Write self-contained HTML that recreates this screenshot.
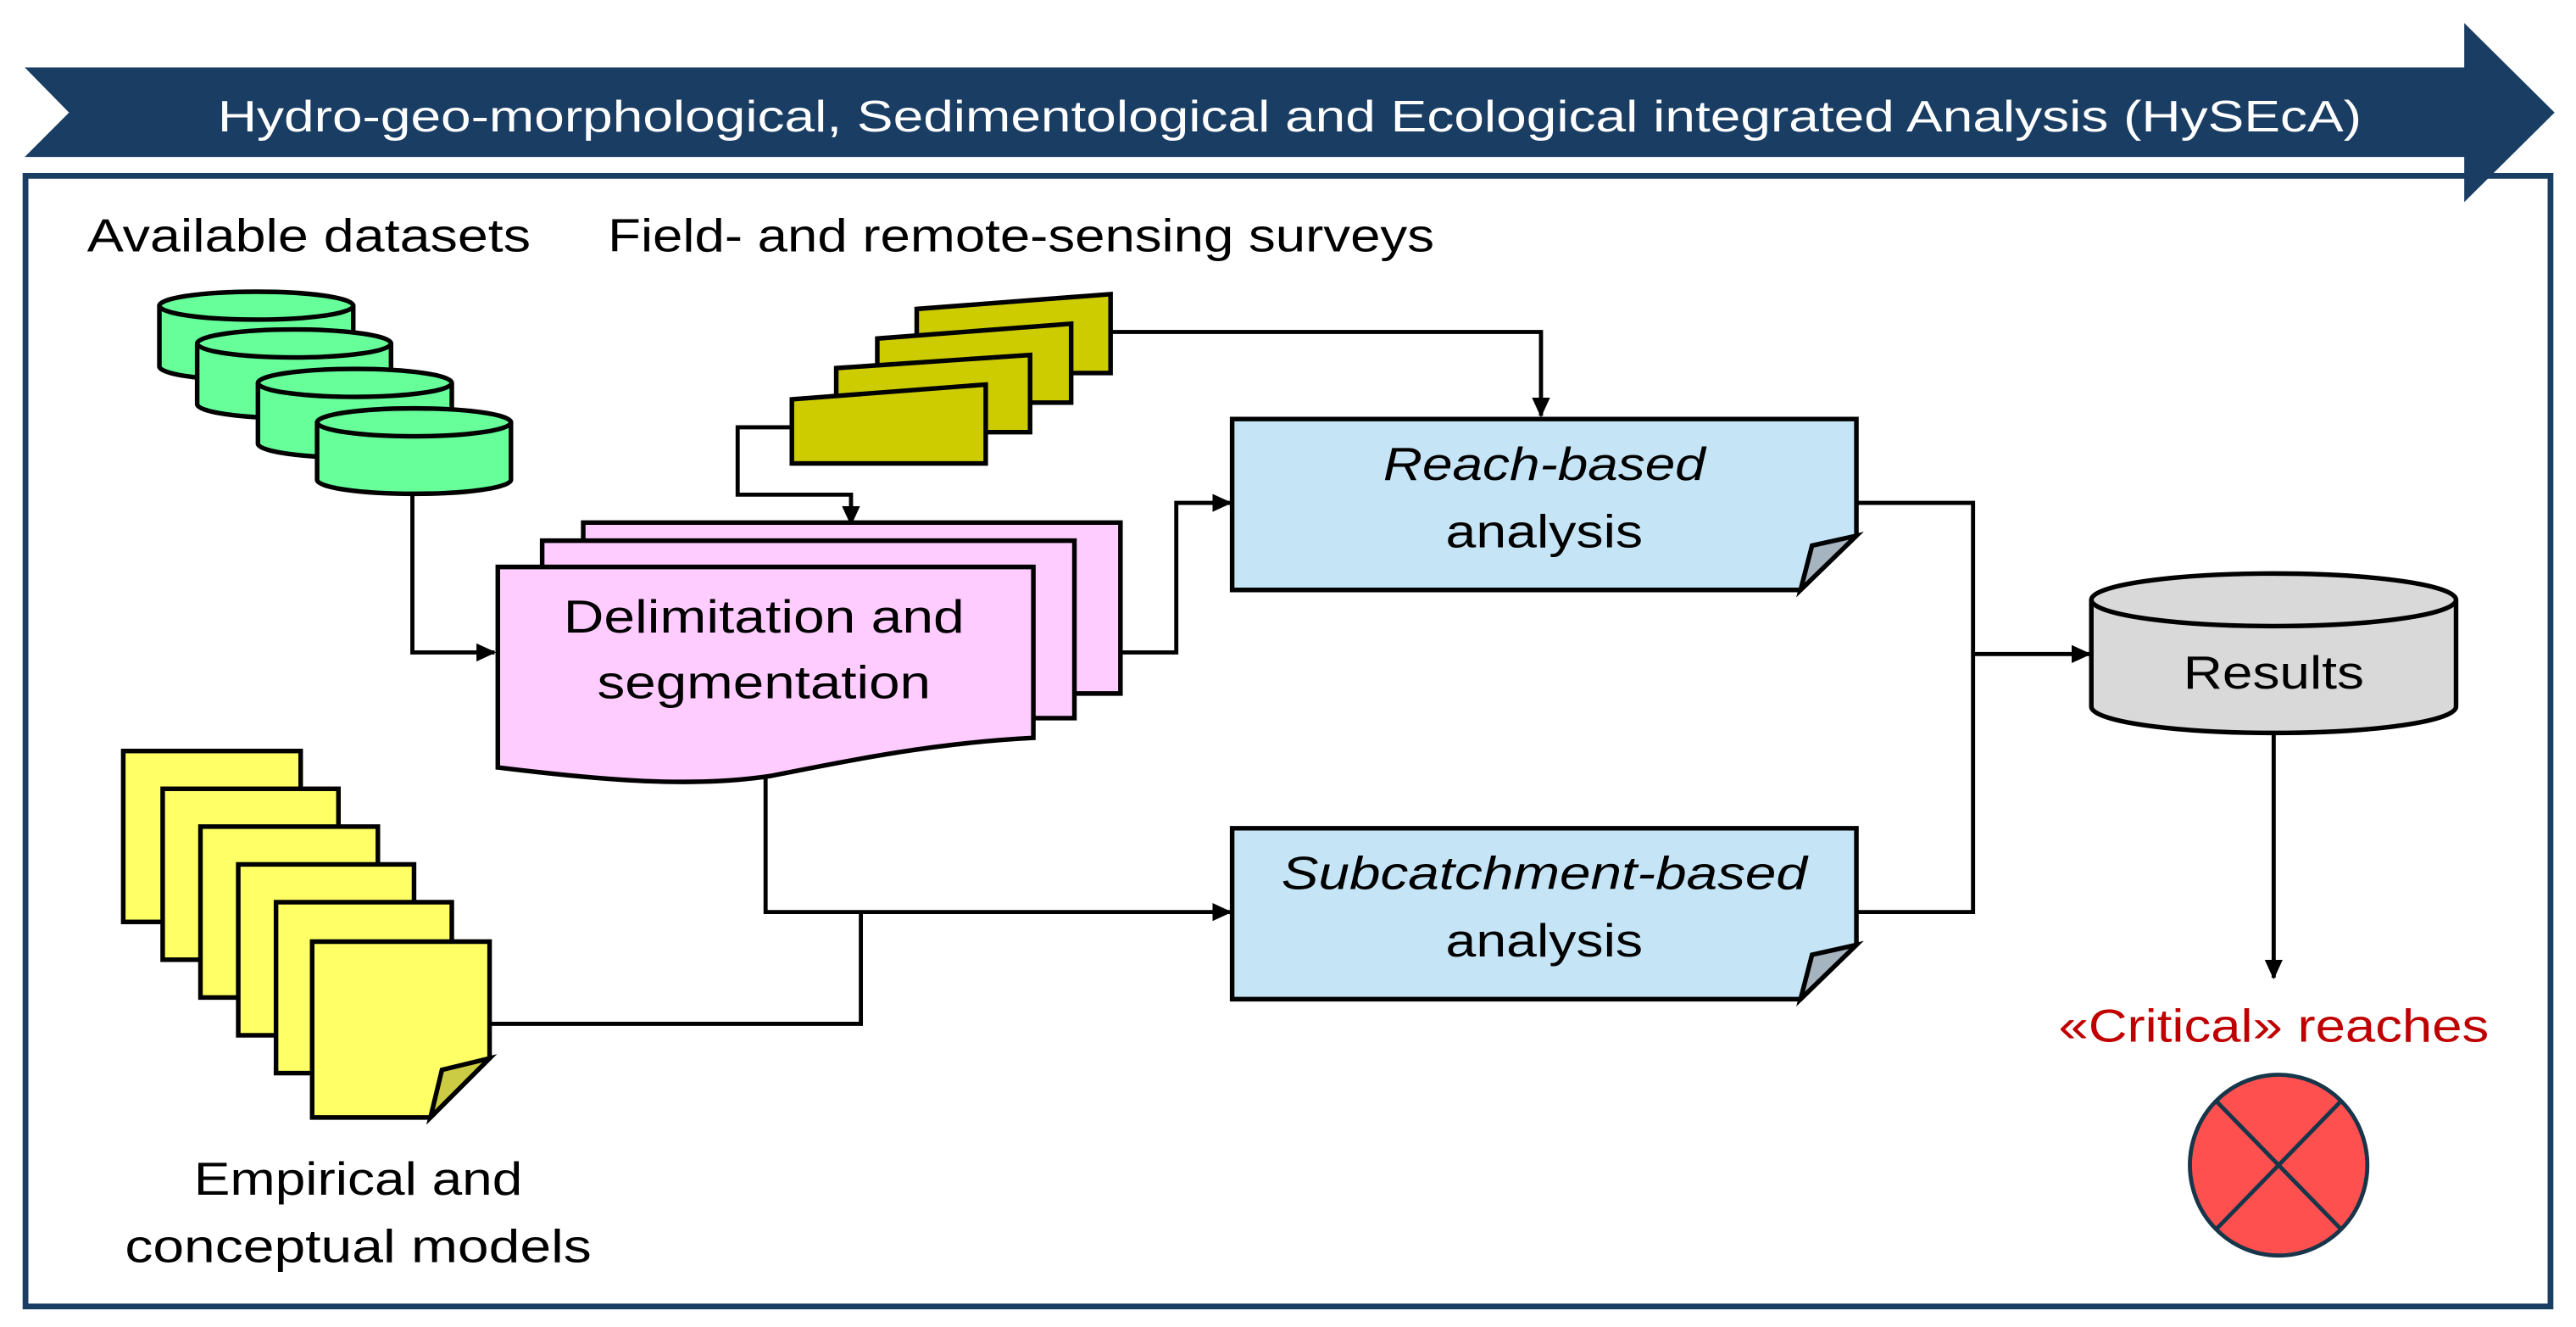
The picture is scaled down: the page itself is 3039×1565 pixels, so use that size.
<!DOCTYPE html>
<html><head><meta charset="utf-8"><style>
html,body{margin:0;padding:0;background:#fff;}
svg{display:block;}
text{font-family:"Liberation Sans",sans-serif;}
</style></head><body>
<svg width="3039" height="1565" viewBox="0 0 1568 807.5" xmlns="http://www.w3.org/2000/svg">
<defs>
<marker id="ah" markerWidth="12" markerHeight="12" refX="11" refY="5.5" orient="auto" markerUnits="userSpaceOnUse" viewBox="0 0 12 11"><path d="M0,0 L12,5.5 L0,11 z" fill="#000"/></marker>
</defs>
<rect width="1568" height="808" fill="#fff"/>
<!-- banner -->
<polygon points="15,41 1500,41 1500,14 1555,68.5 1500,123 1500,95.5 15,95.5 42,68.5" fill="#1a3d63"/>
<text x="785" y="80" fill="#fff" font-size="27" text-anchor="middle" textLength="1305" lengthAdjust="spacingAndGlyphs">Hydro-geo-morphological, Sedimentological and Ecological integrated Analysis (HySEcA)</text>
<!-- frame -->
<rect x="15.5" y="107" width="1537" height="688" fill="none" stroke="#1a3d63" stroke-width="3.5"/>
<text x="53" y="153" font-size="28" textLength="270" lengthAdjust="spacingAndGlyphs">Available datasets</text>
<text x="370" y="153" font-size="28" textLength="503" lengthAdjust="spacingAndGlyphs">Field- and remote-sensing surveys</text>

<g stroke="#000" stroke-width="2.5" fill="none">
<polyline points="251,300 251,397 301,397" marker-end="url(#ah)"/>
<polyline points="482,260 449,260 449,301 518,301 518,319" marker-end="url(#ah)"/>
<polyline points="676,202 938,202 938,253" marker-end="url(#ah)"/>
<polyline points="682,397 716,397 716,306 749,306" marker-end="url(#ah)"/>
<polyline points="466,470 466,555 749,555" marker-end="url(#ah)"/>
<polyline points="298,623 524,623 524,555"/>
<polyline points="1130,306 1201,306 1201,555 1130,555"/>
<polyline points="1201,398 1272,398" marker-end="url(#ah)"/>
<polyline points="1384,446 1384,595" marker-end="url(#ah)"/>
</g>

<!-- green cylinders -->
<g stroke="#000" stroke-width="2.8" fill="#66ff99">
<path d="M97,186 V223 A59,8.5 0 0 0 215,223 V186"/><ellipse cx="156" cy="186" rx="59" ry="8.5"/>
<path d="M120,209 V246 A59,8.5 0 0 0 238,246 V209"/><ellipse cx="179" cy="209" rx="59" ry="8.5"/>
<path d="M157,233 V270 A59,8.5 0 0 0 275,270 V233"/><ellipse cx="216" cy="233" rx="59" ry="8.5"/>
<path d="M193,257 V292 A59,8.5 0 0 0 311,292 V257"/><ellipse cx="252" cy="257" rx="59" ry="8.5"/>
</g>

<!-- olive manual inputs -->
<g stroke="#000" stroke-width="2.8" fill="#cccc00">
<polygon points="558,188 676,179 676,227 558,227"/>
<polygon points="534,206 652,197 652,245 534,245"/>
<polygon points="509,224 627,216 627,263 509,263"/>
<polygon points="482,243 600,234 600,282 482,282"/>
</g>

<!-- pink documents -->
<g stroke="#000" stroke-width="2.8" fill="#ffccff">
<path d="M355,318 H682 V422 H355 Z"/>
<path d="M330,329 H654 V437 H330 Z"/>
<path d="M303,345 H629 V449 C570,452 520,462 470,472 C420,480 360,474 303,467 Z"/>
</g>
<text x="465" y="385" font-size="28" text-anchor="middle" textLength="244" lengthAdjust="spacingAndGlyphs">Delimitation and</text>
<text x="465" y="425" font-size="28" text-anchor="middle" textLength="203" lengthAdjust="spacingAndGlyphs">segmentation</text>

<!-- blue boxes -->
<g stroke="#000" stroke-width="2.8">
<path d="M750,255 H1130 V326 L1096,359 H750 Z" fill="#c5e4f5"/>
<polygon points="1096,359 1103,332 1130,326" fill="#a6b4c0"/>
<path d="M750,504 H1130 V575 L1096,608 H750 Z" fill="#c5e4f5"/>
<polygon points="1096,608 1103,581 1130,575" fill="#a6b4c0"/>
</g>
<text x="940" y="292" font-size="28" font-style="italic" text-anchor="middle" textLength="196" lengthAdjust="spacingAndGlyphs">Reach-based</text>
<text x="940" y="333" font-size="28" text-anchor="middle" textLength="120" lengthAdjust="spacingAndGlyphs">analysis</text>
<text x="940" y="541" font-size="28" font-style="italic" text-anchor="middle" textLength="320" lengthAdjust="spacingAndGlyphs">Subcatchment-based</text>
<text x="940" y="582" font-size="28" text-anchor="middle" textLength="120" lengthAdjust="spacingAndGlyphs">analysis</text>

<!-- results -->
<g stroke="#000" stroke-width="2.8" fill="#d9d9d9">
<path d="M1273,365 V430 A111,16 0 0 0 1495,430 V365"/><ellipse cx="1384" cy="365" rx="111" ry="16"/>
</g>
<text x="1384" y="419" font-size="28" text-anchor="middle" textLength="110" lengthAdjust="spacingAndGlyphs">Results</text>
<text x="1384" y="634" font-size="28" fill="#c00000" text-anchor="middle" textLength="262" lengthAdjust="spacingAndGlyphs">«Critical» reaches</text>
<g stroke="#17364a" stroke-width="2.5">
<ellipse cx="1387" cy="709" rx="54" ry="55" fill="#ff5050"/>
<line x1="1349" y1="670" x2="1425" y2="748"/>
<line x1="1425" y1="670" x2="1349" y2="748"/>
</g>

<!-- yellow notes -->
<g stroke="#000" stroke-width="2.8" fill="#ffff66">
<rect x="75" y="457" width="108" height="104"/>
<rect x="99" y="480" width="107" height="104"/>
<rect x="122" y="503" width="108" height="104"/>
<rect x="145" y="526" width="107" height="104"/>
<rect x="168" y="549" width="107" height="104"/>
<path d="M190,573 H298 V644 L262,680 H190 Z"/>
<polygon points="262,680 269,651 298,644" fill="#cccc44"/>
</g>
<text x="218" y="727" font-size="28" text-anchor="middle" textLength="200" lengthAdjust="spacingAndGlyphs">Empirical and</text>
<text x="218" y="768" font-size="28" text-anchor="middle" textLength="284" lengthAdjust="spacingAndGlyphs">conceptual models</text>
</svg>
</body></html>
